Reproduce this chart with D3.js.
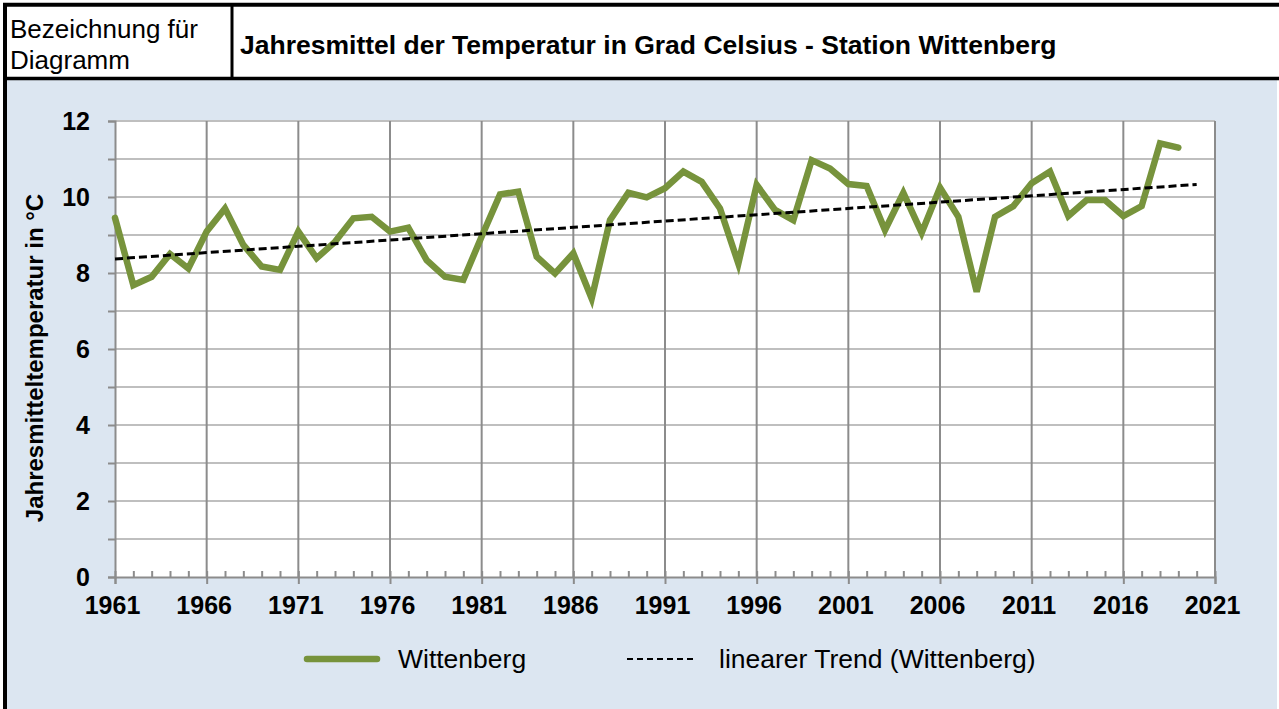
<!DOCTYPE html>
<html><head><meta charset="utf-8">
<script src="https://cdn.jsdelivr.net/npm/d3@7"></script>
<style>html,body{margin:0;padding:0;background:#fff;}svg{display:block;font-family:"Liberation Sans",Arial,sans-serif;}</style>
</head><body>
<svg id="c" width="1279" height="709"></svg>
<script>
const years = d3.range(1961, 2020);
const temps = [9.45,7.68,7.90,8.50,8.12,9.09,9.70,8.74,8.17,8.08,
               9.09,8.39,8.82,9.44,9.48,9.09,9.19,8.34,7.90,7.82,
               8.96,10.07,10.14,8.43,7.99,8.52,7.33,9.39,10.11,9.99,
               10.23,10.67,10.40,9.70,8.25,10.32,9.66,9.39,10.97,10.75,
               10.34,10.29,9.13,10.11,9.06,10.25,9.48,7.51,9.48,9.76,
               10.36,10.67,9.50,9.92,9.92,9.50,9.76,11.41,11.30];
const trendYears = [1961, 2020];
const trendValues = [8.37, 10.33];
const xTicks = [1961,1966,1971,1976,1981,1986,1991,1996,2001,2006,2011,2016,2021];
const yTicks = [0,2,4,6,8,10,12];
const seriesName = "Wittenberg";
const trendName = "linearer Trend (Wittenberg)";
const titleText = "Jahresmittel der Temperatur in Grad Celsius - Station Wittenberg";
const headerLabel = ["Bezeichnung für", "Diagramm"];
const yTitle = "Jahresmitteltemperatur in °C";

const FONT = "'Liberation Sans', Arial, sans-serif";
const svg = d3.select("#c");
const green = "#77933c";

// backgrounds
svg.append("rect").attr("x",0).attr("y",0).attr("width",1279).attr("height",709).attr("fill","#fff");
svg.append("rect").attr("x",5).attr("y",80).attr("width",1272).attr("height",629).attr("fill","#dce6f1");

// frame
svg.append("line").attr("x1",3).attr("x2",1279).attr("y1",4.7).attr("y2",4.7).attr("stroke","#000").attr("stroke-width",4);
svg.append("line").attr("x1",5).attr("x2",5).attr("y1",3).attr("y2",709).attr("stroke","#000").attr("stroke-width",4);
svg.append("line").attr("x1",3).attr("x2",1279).attr("y1",78.5).attr("y2",78.5).attr("stroke","#000").attr("stroke-width",3.5);
svg.append("line").attr("x1",232).attr("x2",232).attr("y1",4).attr("y2",79).attr("stroke","#000").attr("stroke-width",3);

// header texts
svg.append("text").attr("x",10).attr("y",38).attr("font-size",26).text(headerLabel[0]);
svg.append("text").attr("x",10).attr("y",69).attr("font-size",26).text(headerLabel[1]);
svg.append("text").attr("x",240).attr("y",54).attr("font-size",26.5).attr("font-weight","bold").text(titleText);

// plot
const x = d3.scaleLinear().domain([1961,2021]).range([115,1215]);
const y = d3.scaleLinear().domain([0,12]).range([577,121]);

svg.append("rect").attr("x",115).attr("y",121).attr("width",1100).attr("height",456).attr("fill","#fff");

const g = svg.append("g");
g.selectAll("line.hg").data(d3.range(1,13)).join("line")
  .attr("x1",115).attr("x2",1215).attr("y1",d=>y(d)).attr("y2",d=>y(d))
  .attr("stroke","#bfbfbf").attr("stroke-width",2);
g.selectAll("line.vg").data(xTicks.slice(1)).join("line")
  .attr("x1",d=>x(d)).attr("x2",d=>x(d)).attr("y1",121).attr("y2",577)
  .attr("stroke","#8c8c8c").attr("stroke-width",2);

// y axis
const yAxis = d3.axisLeft(y).tickValues(d3.range(0,13)).tickSize(7).tickFormat(d=> yTicks.includes(d)? String(d) : "");
const ya = svg.append("g").attr("transform","translate(115,0)").call(yAxis);
ya.select(".domain").attr("stroke","#8c8c8c").attr("stroke-width",2);
ya.selectAll(".tick line").attr("stroke","#8c8c8c").attr("stroke-width",2);
ya.selectAll(".tick text").attr("x",-25).attr("font-size",25).attr("font-weight","bold")
  .attr("font-family",FONT).attr("fill","#000");

// x axis
const xMinor = d3.axisBottom(x).tickValues(d3.range(1961,2022)).tickSizeInner(-6).tickSizeOuter(0).tickFormat("");
const xm = svg.append("g").attr("transform","translate(0,577)").call(xMinor);
xm.select(".domain").remove();
xm.selectAll(".tick line").attr("stroke","#8c8c8c").attr("stroke-width",2);
const xAxis = d3.axisBottom(x).tickValues(xTicks).tickSize(7).tickPadding(12).tickFormat(d3.format("d"));
const xa = svg.append("g").attr("transform","translate(0,577)").call(xAxis);
xa.select(".domain").attr("stroke","#8c8c8c").attr("stroke-width",2);
xa.selectAll(".tick line").attr("stroke","#8c8c8c").attr("stroke-width",2);
xa.selectAll(".tick text").attr("dx",-3).attr("font-size",25).attr("font-weight","bold")
  .attr("font-family",FONT).attr("fill","#000");

svg.append("line").attr("x1",1215).attr("x2",1215).attr("y1",121).attr("y2",577).attr("stroke","#8c8c8c").attr("stroke-width",2);

// y title
svg.append("text").attr("transform","translate(43,358) rotate(-90)").attr("text-anchor","middle")
  .attr("font-size",24).attr("font-weight","bold").text(yTitle);

// series
const line = d3.line().x((d,i)=>x(years[i])).y(d=>y(d));
svg.append("path").attr("d",line(temps)).attr("fill","none").attr("stroke",green)
  .attr("stroke-width",6.5).attr("stroke-linejoin","miter").attr("stroke-linecap","round");

// trend
const tline = d3.line().x((d,i)=>x(trendYears[i])).y(d=>y(d));
svg.append("path").attr("d",tline(trendValues)).attr("fill","none").attr("stroke","#000")
  .attr("stroke-width",3).attr("stroke-dasharray","8,4");

// legend
svg.append("line").attr("x1",307).attr("x2",377).attr("y1",659).attr("y2",659).attr("stroke",green).attr("stroke-width",6.5).attr("stroke-linecap","round");
svg.append("text").attr("x",398).attr("y",668).attr("font-size",26.5).text(seriesName);
svg.append("line").attr("x1",627).attr("x2",696).attr("y1",659).attr("y2",659).attr("stroke","#000").attr("stroke-width",2).attr("stroke-dasharray","6,4");
svg.append("text").attr("x",719).attr("y",668).attr("font-size",26.5).text(trendName);
</script>
</body></html>
